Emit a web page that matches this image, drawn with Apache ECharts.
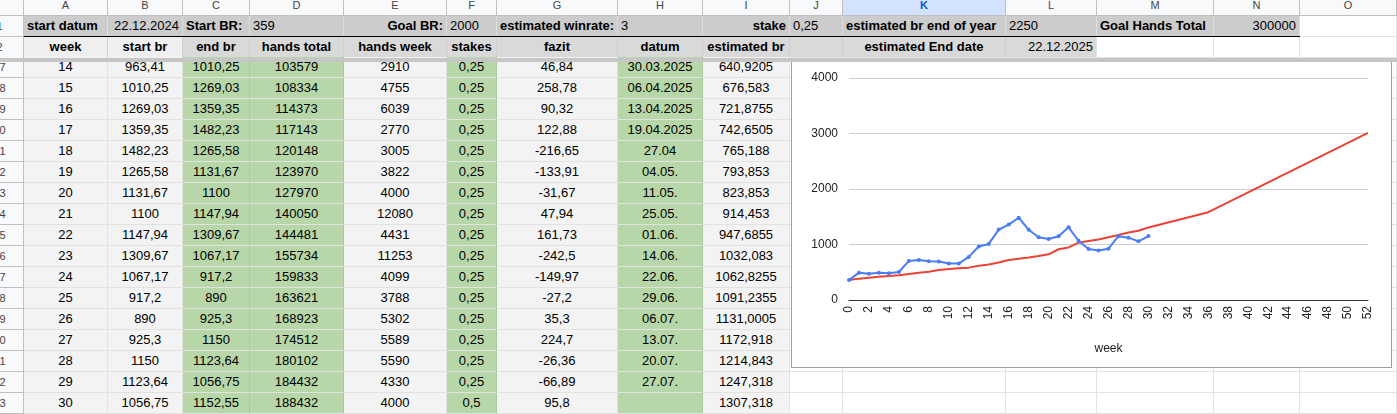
<!DOCTYPE html>
<html>
<head>
<meta charset="utf-8">
<script src="https://cdn.jsdelivr.net/npm/echarts@6/dist/echarts.min.js"></script>
<style>
  body { margin: 0; width: 1397px; height: 414px; overflow: hidden; background: #fff; position: relative;
         font-family: Arial, "Liberation Sans", sans-serif; }
  .c { position: absolute; box-sizing: border-box; font-size: 13px; color: #000; white-space: nowrap; overflow: hidden;
       border-right: 1px solid #e2e2e2; border-bottom: 1px solid #e2e2e2; padding: 0 3px; }
  .hd { background: #f8f9fa; color: #444; font-size: 11px; text-align: center; border-color: #c0c0c0; }
  #chart { position: absolute; left: 791px; top: 58px; width: 601px; height: 310px; box-sizing: border-box;
           border: 1px solid #9e9e9e; background: #fff; z-index: 5; }
  #freeze { position: absolute; left: 0; top: 58px; width: 1397px; height: 4px; background: #c6c6c6; z-index: 10; }
  #line1 { position: absolute; left: 24px; top: 36px; width: 1276px; height: 1px; background: #000; z-index: 3; }
</style>
</head>
<body>
<div id="line1"></div>
<div id="freeze"></div>
<div id="chart"></div>
<script>
// sheet values, weeks 14..30
var weeks = [14, 15, 16, 17, 18, 19, 20, 21, 22, 23, 24, 25, 26, 27, 28, 29, 30];
var startBr = [963.41, 1010.25, 1269.03, 1359.35, 1482.23, 1265.58, 1131.67, 1100, 1147.94, 1309.67, 1067.17, 917.2, 890, 925.3, 1150, 1123.64, 1056.75];
var endBr = [1010.25, 1269.03, 1359.35, 1482.23, 1265.58, 1131.67, 1100, 1147.94, 1309.67, 1067.17, 917.2, 890, 925.3, 1150, 1123.64, 1056.75, 1152.55];
var handsTotal = [103579, 108334, 114373, 117143, 120148, 123970, 127970, 140050, 144481, 155734, 159833, 163621, 168923, 174512, 180102, 184432, 188432];
var handsWeek = [2910, 4755, 6039, 2770, 3005, 3822, 4000, 12080, 4431, 11253, 4099, 3788, 5302, 5589, 5590, 4330, 4000];
var stakes = [0.25, 0.25, 0.25, 0.25, 0.25, 0.25, 0.25, 0.25, 0.25, 0.25, 0.25, 0.25, 0.25, 0.25, 0.25, 0.25, 0.5];
var fazit = [46.84, 258.78, 90.32, 122.88, -216.65, -133.91, -31.67, 47.94, 161.73, -242.5, -149.97, -27.2, 35.3, 224.7, -26.36, -66.89, 95.8];
var datum = ['30.03.2025', '06.04.2025', '13.04.2025', '19.04.2025', '27.04', '04.05.', '11.05.', '25.05.', '01.06.', '14.06.', '22.06.', '29.06.', '06.07.', '13.07.', '20.07.', '27.07.', ''];
var estBr = [640.9205, 676.583, 721.8755, 742.6505, 765.188, 793.853, 823.853, 914.453, 947.6855, 1032.083, 1062.8255, 1091.2355, 1131.0005, 1172.918, 1214.843, 1247.318, 1307.318];

// chart-only values (rows scrolled out of view), weeks 0..13
var earlyBr = [359, 493, 475, 493, 481, 505, 704, 722, 698, 692, 656, 656, 776, 963.41];
var earlyEstBr = [359, 385, 403, 421, 433, 445, 469, 493, 511, 541, 559, 571, 583, 619];
var lateEstWeeks = [36, 52];
var lateEstBr = [1582, 3010];

var colX = [24, 108, 183, 250, 344, 447, 497, 618, 703, 790, 843, 1006, 1097, 1214, 1300, 1397];
var letters = 'ABCDEFGHIJKLMNO';

function fmt(v) {
    return String(v).replace('.', ',');
}

function cell(x, y, w, h, text, css, cls) {
    var d = document.createElement('div');
    d.className = cls || 'c';
    d.style.left = x + 'px';
    d.style.top = y + 'px';
    d.style.width = w + 'px';
    d.style.height = h + 'px';
    d.style.lineHeight = (h - 1) + 'px';
    for (var k in css) d.style[k] = css[k];
    d.textContent = text;
    document.body.appendChild(d);
    return d;
}

// column letters
cell(-24, -5, 48, 21, '', {}, 'c hd');
for (var i = 0; i < letters.length; i++) {
    var st = {};
    if (letters[i] === 'K') { st.background = '#d3e3fd'; st.color = '#0b57d0'; st.fontWeight = 'bold'; }
    cell(colX[i], -5, colX[i + 1] - colX[i], 21, letters[i], st, 'c hd');
}

// row 1
var row1 = [
    ['start datum', 'left', true], ['22.12.2024', 'right', false], ['Start BR:', 'left', true], ['359', 'left', false],
    ['Goal BR:', 'right', true], ['2000', 'left', false], ['estimated winrate:', 'left', true], ['3', 'left', false],
    ['stake', 'right', true], ['0,25', 'left', false], ['estimated br end of year', 'left', true], ['2250', 'left', false],
    ['Goal Hands Total', 'left', true], ['300000', 'right', false]
];
cell(-24, 16, 48, 21, '1', {}, 'c hd');
for (i = 0; i < 15; i++) {
    var r = row1[i];
    if (r) {
        cell(colX[i], 16, colX[i + 1] - colX[i], 21, r[0], {
            background: '#cccccc', textAlign: r[1], fontWeight: r[2] ? 'bold' : 'normal', borderRightColor: '#dedede'
        });
    } else {
        cell(colX[i], 16, colX[i + 1] - colX[i], 21, '', {});
    }
}

// row 2
var row2 = ['week', 'start br', 'end br', 'hands total', 'hands week', 'stakes', 'fazit', 'datum', 'estimated br', '', 'estimated End date'];
cell(-24, 37, 48, 21, '2', {}, 'c hd');
for (i = 0; i < 15; i++) {
    var w = colX[i + 1] - colX[i];
    if (i < 11) {
        cell(colX[i], 37, w, 21, row2[i], {
            background: i < 2 ? '#efefef' : '#d9d9d9', textAlign: 'center', fontWeight: 'bold', borderRightColor: '#cfcfcf'
        });
    } else if (i === 11) {
        cell(colX[i], 37, w, 21, '22.12.2025', { background: '#d9d9d9', textAlign: 'right' });
    } else {
        cell(colX[i], 37, w, 21, '', {});
    }
}

// data rows
var green = '#b7d7a8', grey = '#f3f3f3';
for (var j = 0; j < weeks.length; j++) {
    var y = 57 + j * 21;
    var vals = [weeks[j], fmt(startBr[j]), fmt(endBr[j]), handsTotal[j], handsWeek[j], fmt(stakes[j]), fmt(fazit[j]), datum[j], fmt(estBr[j])];
    var bgs = [grey, grey, green, green, grey, green, grey, green, grey];
    cell(-24, y, 48, 21, String(17 + j), {}, 'c hd');
    for (i = 0; i < 15; i++) {
        w = colX[i + 1] - colX[i];
        if (i < 9) {
            cell(colX[i], y, w, 21, vals[i], {
                background: bgs[i], textAlign: 'center', borderRightColor: bgs[i] === green ? '#a9cb9b' : '#e2e2e2'
            });
        } else {
            cell(colX[i], y, w, 21, '', {});
        }
    }
}

// chart series
var actual = [];
var allBr = earlyBr.concat(endBr);
for (i = 0; i < allBr.length; i++) actual.push([i, allBr[i]]);
var estimated = [];
var allEst = earlyEstBr.concat(estBr);
for (i = 0; i < allEst.length; i++) estimated.push([i, allEst[i]]);
for (i = 0; i < lateEstWeeks.length; i++) estimated.push([lateEstWeeks[i], lateEstBr[i]]);

var myChart = echarts.init(document.getElementById('chart'));
myChart.setOption({
    animation: false,
    textStyle: { fontFamily: 'Arial, "Liberation Sans", sans-serif' },
    grid: { left: 57, right: 23, top: 19, bottom: 67 },
    xAxis: {
        type: 'value', min: 0, max: 52, interval: 2,
        name: 'week', nameLocation: 'middle', nameGap: 43,
        nameTextStyle: { color: '#222', fontSize: 12 },
        axisLine: { lineStyle: { color: '#333' } },
        axisTick: { show: false },
        splitLine: { show: false },
        axisLabel: { rotate: 90, margin: 6, color: '#222', fontSize: 12 }
    },
    yAxis: {
        type: 'value', min: 0, max: 4000, interval: 1000,
        axisLine: { show: false },
        axisTick: { show: false },
        splitLine: { lineStyle: { color: '#cccccc' } },
        axisLabel: { margin: 11, color: '#222', fontSize: 12, formatter: function(v) { return String(v); } }
    },
    series: [
        {
            name: 'estimated br', type: 'line', data: estimated, showSymbol: false,
            lineStyle: { color: '#ea4335', width: 2 }, itemStyle: { color: '#ea4335' }, z: 2
        },
        {
            name: 'end br', type: 'line', data: actual, symbol: 'circle', symbolSize: 4,
            lineStyle: { color: '#4a7df5', width: 2 }, itemStyle: { color: '#4a7df5' }, z: 3
        }
    ]
});
</script>
</body>
</html>
